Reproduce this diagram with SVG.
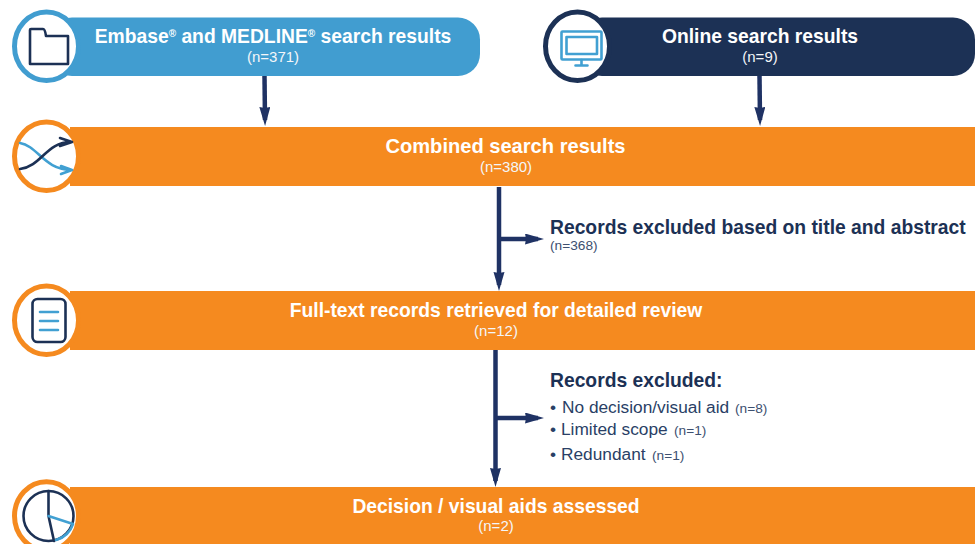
<svg xmlns="http://www.w3.org/2000/svg" width="977" height="544" viewBox="0 0 977 544">
<style>
text{font-family:"Liberation Sans",Arial,sans-serif}
.t{font-size:19.3px;font-weight:700;fill:#fff;text-anchor:middle}
.n{font-size:15px;fill:#f4f6f9;text-anchor:middle}
.b{font-weight:700;fill:#1c3155;font-size:19.3px}
.s{fill:#2a3f66;font-size:17.3px}
.x{fill:#3d5070;font-size:13.7px}
.ring{fill:#fff;stroke-width:5}
.o{stroke:#f58a1f}
.ic{fill:none;stroke:#1c3155;stroke-width:2.6;stroke-linejoin:round;stroke-linecap:round}
.il{fill:none;stroke:#41a0d2;stroke-width:2.6;stroke-linejoin:round;stroke-linecap:round}
.c{fill:none;stroke:#1f3264;stroke-width:4.5}
</style>
<defs><marker id="a" markerUnits="userSpaceOnUse" markerWidth="20" markerHeight="12" refX="13" refY="5.500" orient="auto"><path d="M0 0L19 5.500L0 11L1 5.500Z" fill="#1f3264"/></marker></defs>
<g id="embase">
<rect x="50" y="17.500" width="430" height="58.500" rx="22" fill="#419dd0"/>
<ellipse class="ring" cx="46.500" cy="46.300" rx="32" ry="34.300" stroke="#419dd0"/>
<path class="ic" d="M30 64V30Q30 29 31 29H43Q45 29 46 36H68V64Z"/>
<text class="t" x="273" y="43">Embase<tspan font-size="10" dy="-6">®</tspan><tspan dy="6"> and MEDLINE</tspan><tspan font-size="10" dy="-6">®</tspan><tspan dy="6"> search results</tspan></text>
<text class="n" x="273" y="62">(n=371)</text>
</g>
<g id="online">
<rect x="580" y="17.500" width="395" height="58.500" rx="22" fill="#1c3155"/>
<ellipse class="ring" cx="577.500" cy="46.300" rx="32" ry="34.300" stroke="#1c3155"/>
<rect class="il" x="561.500" y="31.500" width="40" height="28" rx="1"/>
<rect class="il" x="566.500" y="37" width="30.500" height="17"/>
<path class="il" d="M581.500 60V65M575.500 65.500H587.500"/>
<text class="t" x="760" y="43">Online search results</text>
<text class="n" x="760" y="62">(n=9)</text>
</g>
<g id="combined">
<rect x="70" y="127" width="905" height="59" fill="#f58a1f"/>
<ellipse class="ring o" cx="46.500" cy="156.300" rx="32" ry="34.300"/>
<path class="il" d="M20 143C38 146 44 170 72 170M61 166L72 170L61 174"/>
<path class="ic" d="M20 169C42 166 46 142 71 142M60 138L72 142L60 146"/>
<text class="t" x="505.500" y="153" style="font-size:20.100px">Combined search results</text>
<text class="n" x="506" y="172">(n=380)</text>
</g>
<g id="fulltext">
<rect x="70" y="291" width="905" height="59" fill="#f58a1f"/>
<ellipse class="ring o" cx="46.500" cy="320.300" rx="32" ry="34.300"/>
<rect class="ic" x="32.500" y="299" width="33" height="43" rx="5"/>
<path class="il" d="M40 312H58M40 321H58M40 330H58"/>
<text class="t" x="496" y="317">Full-text records retrieved for detailed review</text>
<text class="n" x="496" y="336">(n=12)</text>
</g>
<g id="assessed">
<rect x="70" y="487" width="905" height="57" fill="#f58a1f"/>
<ellipse class="ring o" cx="46.500" cy="516" rx="32" ry="34.300"/>
<circle class="ic" cx="48.500" cy="516" r="25"/>
<path class="ic" d="M48.500 491V516L54 541"/>
<path class="il" d="M48.500 516L73 524A25 25 0 0 1 56 540"/>
<text class="t" x="496" y="513">Decision / visual aids assessed</text>
<text class="n" x="496" y="531">(n=2)</text>
</g>
<g id="connectors">
<path class="c" d="M264.500 76L265 120" marker-end="url(#a)"/>
<path class="c" d="M759.500 76L760 120" marker-end="url(#a)"/>
<path class="c" d="M499 187V285" marker-end="url(#a)"/>
<path class="c" d="M499 239H538" marker-end="url(#a)"/>
<path class="c" d="M495.500 350V481" marker-end="url(#a)"/>
<path class="c" d="M496 418H538" marker-end="url(#a)"/>
</g>
<g id="excluded1">
<text class="b" x="550" y="234">Records excluded based on title and abstract</text>
<text class="x" x="550" y="250">(n=368)</text>
</g>
<g id="excluded2">
<text class="b" x="550" y="387">Records excluded:</text>
<text class="s" x="550" y="413">•<tspan x="562">No decision/visual aid</tspan><tspan class="x" x="735">(n=8)</tspan></text>
<text class="s" x="550" y="435">•<tspan x="561">Limited scope</tspan><tspan class="x" x="674">(n=1)</tspan></text>
<text class="s" x="550" y="460">•<tspan x="561">Redundant</tspan><tspan class="x" x="652">(n=1)</tspan></text>
</g>
</svg>
